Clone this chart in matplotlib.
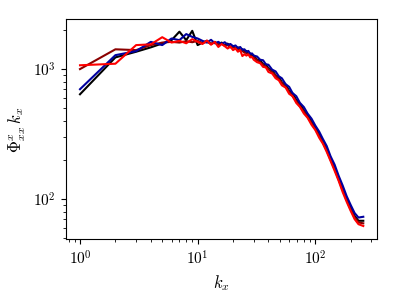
import matplotlib
matplotlib.use("Agg")
import matplotlib.pyplot as plt

plt.rcParams['font.family'] = 'serif'
plt.rcParams['font.serif'] = ['cmr10', 'DejaVu Serif']
plt.rcParams['mathtext.fontset'] = 'cm'
plt.rcParams['axes.formatter.use_mathtext'] = True

kx = list(range(1, 31)) + [32, 34, 36, 38, 40, 43, 46, 49, 52, 56, 60, 64, 69, 74, 80,
                           86, 93, 100, 108, 116, 125, 135, 146, 158, 171, 185, 200, 216, 233, 256]

black = [640, 1230, 1360, 1470, 1575, 1670, 1940, 1670, 1970, 1530, 1600, 1650, 1560, 1620, 1540,
         1600, 1520, 1570, 1480, 1500, 1430, 1470, 1390, 1420, 1360, 1380, 1300, 1320, 1260, 1270,
         1180, 1170, 1090, 1085, 1010, 980, 895, 870, 790, 760, 680, 650, 578, 540, 480,
         445, 392, 358, 313, 280, 242, 206, 174, 146, 121, 101, 86, 74, 68, 68]

darkred = [1000, 1420, 1400, 1530, 1600, 1620, 1600, 1640, 1610, 1650, 1590, 1620, 1570, 1600, 1550,
           1570, 1510, 1530, 1470, 1480, 1440, 1430, 1390, 1380, 1340, 1330, 1290, 1280, 1240, 1230,
           1170, 1130, 1080, 1040, 1000, 945, 890, 835, 785, 730, 670, 620, 565, 518, 470,
           428, 384, 345, 306, 272, 237, 200, 170, 141, 117, 98, 83, 72, 66, 65]

blue = [700, 1280, 1375, 1620, 1530, 1720, 1670, 1860, 1770, 1720, 1650, 1600, 1680, 1580, 1620,
        1560, 1610, 1540, 1560, 1500, 1520, 1450, 1480, 1410, 1420, 1360, 1380, 1310, 1320, 1270,
        1250, 1180, 1170, 1090, 1080, 990, 960, 880, 850, 765, 730, 655, 618, 550, 510,
        455, 415, 368, 330, 290, 256, 213, 184, 151, 127, 105, 90, 78, 72, 73]

red = [1070, 1100, 1530, 1550, 1760, 1600, 1650, 1580, 1700, 1620, 1560, 1660, 1540, 1620, 1480,
       1560, 1500, 1440, 1490, 1400, 1440, 1360, 1400, 1260, 1300, 1270, 1300, 1230, 1240, 1180,
       1130, 1110, 1040, 1030, 950, 925, 850, 820, 750, 720, 645, 620, 548, 512, 455,
       422, 372, 340, 296, 267, 231, 196, 165, 138, 113, 95, 81, 70, 64, 62]

fig = plt.figure(figsize=(3.99, 2.99), dpi=100)
ax = fig.add_axes([0.165, 0.199, 0.781, 0.736])

ax.plot(kx, black, color='black', lw=1.5)
ax.plot(kx, darkred, color='#8b0000', lw=1.5)
ax.plot(kx, blue, color='#0000a0', lw=1.5)
ax.plot(kx, red, color='#ff0000', lw=1.5)

ax.set_xscale('log')
ax.set_yscale('log')
ax.set_ylim(48.8, 2411)
ax.set_xlabel(r'$k_x$', fontsize=12)
ax.set_ylabel(r'$\Phi^x_{xx}\, k_x$', fontsize=12)
ax.tick_params(labelsize=11)

fig.savefig('out.png', dpi=100)
